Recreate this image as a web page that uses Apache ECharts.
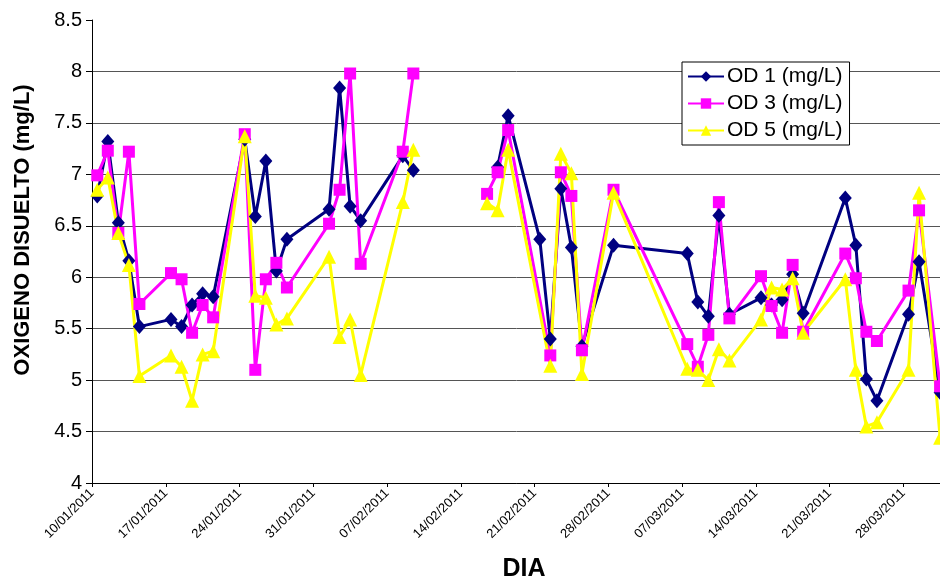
<!DOCTYPE html>
<html>
<head>
<meta charset="utf-8">
<script src="https://cdn.jsdelivr.net/npm/echarts@6/dist/echarts.min.js"></script>
<style>
  html, body { margin: 0; padding: 0; background: #fff; }
  #chart { width: 940px; height: 580px; }
</style>
</head>
<body>
<div id="chart"></div>
<script>
// ---- data ----
const dates = ['10/01/2011','11/01/2011','12/01/2011','13/01/2011','14/01/2011',
  '17/01/2011','18/01/2011','19/01/2011','20/01/2011','21/01/2011',
  '24/01/2011','25/01/2011','26/01/2011','27/01/2011','28/01/2011',
  '01/02/2011','02/02/2011','03/02/2011','04/02/2011',
  '08/02/2011','09/02/2011',
  '12/02/2011',
  '16/02/2011','17/02/2011','18/02/2011',
  '21/02/2011','22/02/2011','23/02/2011','24/02/2011','25/02/2011',
  '28/02/2011',
  '07/03/2011','08/03/2011','09/03/2011','10/03/2011','11/03/2011',
  '14/03/2011','15/03/2011','16/03/2011','17/03/2011','18/03/2011',
  '22/03/2011','23/03/2011','24/03/2011','25/03/2011',
  '28/03/2011','29/03/2011',
  '31/03/2011'];

const od1 = [6.79,7.32,6.53,6.16,5.52, 5.59,5.52,5.73,5.84,5.81, 7.34,6.59,7.13,6.06,6.37,
  6.66,7.84,6.69,6.55, 7.18,7.04, null, null,7.07,7.57, 6.37,5.40,6.86,6.29,5.33, 6.31,
  6.23,5.76,5.62,6.60,5.64, 5.80,5.73,5.78,6.03,5.65, 6.77,6.31,5.01,4.80, 5.64,6.15, 4.88];
const od3 = [6.99,7.23,6.43,7.22,5.74, 6.04,5.98,5.46,5.73,5.61, 7.39,5.10,5.98,6.14,5.90,
  6.52,6.85,7.98,6.13, 7.22,7.98, null, 6.81,7.02,7.43, null,5.24,7.02,6.79,5.29, 6.85,
  5.35,5.13,5.44,6.73,5.60, 6.01,5.72,5.46,6.12,5.47, 6.23,5.99,5.47,5.38, 5.87,6.65, 4.94];
const od5 = [6.85,6.97,6.43,6.12,5.04, 5.24,5.13,4.80,5.25,5.28, 7.37,5.82,5.80,5.54,5.60,
  6.20,5.42,5.59,5.05, 6.73,7.24, null, 6.72,6.65,7.24, null,5.14,7.20,7.01,5.06, 6.82,
  5.11,5.10,5.00,5.30,5.19, 5.59,5.90,5.88,5.99,5.46, 5.98,5.10,4.55,4.59, 5.10,6.82, 4.44];

// dates where the recorded lines are interrupted (no sampling period)
const gapDates = ['12/02/2011'];

const seriesNames = ['OD 1 (mg/L)', 'OD 3 (mg/L)', 'OD 5 (mg/L)'];
const xTickLabels = ['10/01/2011','17/01/2011','24/01/2011','31/01/2011','07/02/2011','14/02/2011',
  '21/02/2011','28/02/2011','07/03/2011','14/03/2011','21/03/2011','28/03/2011'];
const yTickLabels = ['4','4.5','5','5.5','6','6.5','7','7.5','8','8.5'];

// ---- helpers ----
const DAY = 86400000;
function toUTC(s) { const p = s.split('/'); return Date.UTC(+p[2], +p[1] - 1, +p[0]); }
const base = toUTC(dates[0]);
function dayIndex(s) { return Math.round((toUTC(s) - base) / DAY); }

function buildSeries(values) {
  const pts = [];
  dates.forEach((d, i) => {
    const x = dayIndex(d) + 0.5; // plotted at the centre of the day
    if (gapDates.indexOf(d) >= 0) { pts.push([x, '-']); return; }
    if (values[i] == null) return;
    pts.push([x, values[i]]);
  });
  return pts;
}

const FONT = 'Liberation Sans, Arial, sans-serif';
const chart = echarts.init(document.getElementById('chart'), null, { renderer: 'canvas' });

const styles = [
  { color: '#000080', symbol: 'diamond', size: [13, 15] },
  { color: '#FF00FF', symbol: 'rect', size: 12 },
  { color: '#FFFF00', symbol: 'triangle', size: 14 }
];
const allValues = [od1, od3, od5];

chart.setOption({
  animation: false,
  backgroundColor: '#fff',
  grid: { left: 92, top: 20, width: 885, height: 463, containLabel: false, outerBoundsMode: 'none' },
  xAxis: {
    type: 'value', min: 0, max: 84, interval: 7,
    axisLine: { show: true, lineStyle: { color: '#000', width: 1 } },
    axisTick: { show: true, length: 4, lineStyle: { color: '#000' } },
    splitLine: { show: false },
    axisLabel: {
      rotate: 45, margin: 8, fontSize: 13, fontFamily: FONT, color: '#000',
      showMaxLabel: false,
      formatter: v => xTickLabels[Math.round(v / 7)] || ''
    }
  },
  yAxis: {
    type: 'value', min: 4, max: 8.5, interval: 0.5,
    axisLine: { show: true, lineStyle: { color: '#000', width: 1 } },
    axisTick: { show: true, length: 6, lineStyle: { color: '#000' } },
    splitLine: { show: true, showMaxLine: false, lineStyle: { color: '#555', width: 1 } },
    axisLabel: {
      margin: 10, fontSize: 20, fontFamily: FONT, color: '#000',
      formatter: v => yTickLabels[Math.round((v - 4) / 0.5)]
    }
  },
  legend: {
    orient: 'vertical', left: 682, top: 62,
    backgroundColor: '#fff', borderColor: '#000', borderWidth: 1, borderRadius: 0,
    padding: [4, 7, 4, 5], itemGap: 6, itemWidth: 36, itemHeight: 13,
    textStyle: { fontSize: 21, fontFamily: FONT, color: '#000', padding: [0, 0, 0, -2] },
    data: seriesNames
  },
  graphic: [
    { type: 'text', x: 23, y: 230, rotation: Math.PI / 2,
      style: { text: 'OXIGENO DISUELTO (mg/L)', font: 'bold 22px ' + FONT, fill: '#000',
               textAlign: 'center', textVerticalAlign: 'middle' } },
    { type: 'text', x: 524, y: 569,
      style: { text: 'DIA', font: 'bold 25px ' + FONT, fill: '#000',
               textAlign: 'center', textVerticalAlign: 'middle' } }
  ],
  series: seriesNames.map((name, k) => ({
    name: name, type: 'line',
    data: buildSeries(allValues[k]),
    connectNulls: false,
    symbol: styles[k].symbol, symbolSize: styles[k].size, showSymbol: true,
    lineStyle: { color: styles[k].color, width: 3 },
    itemStyle: { color: styles[k].color, borderWidth: 0 },
    emphasis: { disabled: true }
  }))
});
</script>
</body>
</html>
